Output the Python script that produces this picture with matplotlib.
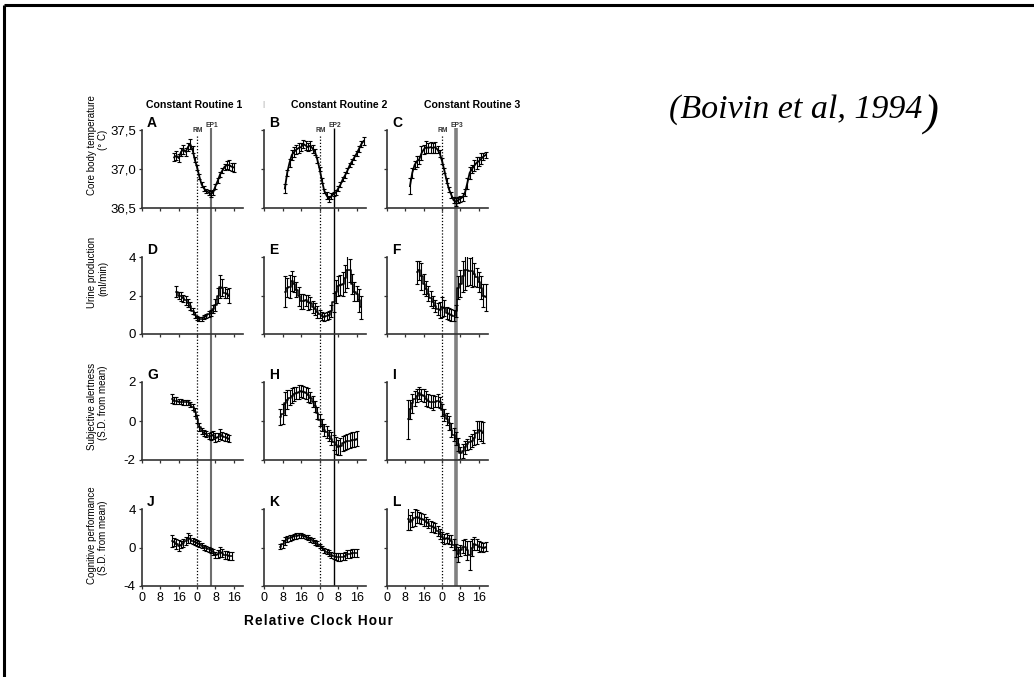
import numpy as np
import matplotlib.pyplot as plt

plt.rcParams['font.family'] = ['Liberation Sans', 'DejaVu Sans']

# ---- data (hourly means +- SEM) ----
temp1 = [37.15, 37.17, 37.14, 37.22, 37.25, 37.22, 37.28, 37.32, 37.25, 37.12,
         37.02, 36.90, 36.80, 36.75, 36.72, 36.70, 36.68, 36.70, 36.78, 36.85,
         36.93, 36.98, 37.03, 37.05, 37.05, 37.03, 37.02]
temp1_err = [0.05, 0.06, 0.05, 0.05, 0.06, 0.05, 0.05, 0.06, 0.04, 0.03,
             0.03, 0.03, 0.03, 0.03, 0.03, 0.03, 0.04, 0.03, 0.03, 0.03,
             0.03, 0.03, 0.04, 0.05, 0.06, 0.05, 0.06]
temp2 = [36.75, 36.95, 37.08, 37.18, 37.22, 37.25, 37.27, 37.28, 37.32, 37.30,
         37.28, 37.30, 37.26, 37.22, 37.12, 37.00, 36.85, 36.72, 36.66, 36.62,
         36.65, 36.68, 36.70, 36.75, 36.80, 36.87, 36.92, 36.98, 37.05, 37.10,
         37.15, 37.20, 37.26, 37.32, 37.36]
temp2_err = [0.06, 0.04, 0.05, 0.06, 0.06, 0.06, 0.06, 0.05, 0.05, 0.06,
             0.05, 0.06, 0.05, 0.04, 0.04, 0.03, 0.03, 0.03, 0.04, 0.04,
             0.04, 0.03, 0.03, 0.03, 0.03, 0.03, 0.04, 0.03, 0.03, 0.03,
             0.03, 0.03, 0.04, 0.04, 0.05]
temp3 = [36.78, 36.95, 37.05, 37.10, 37.12, 37.20, 37.25, 37.28, 37.27, 37.28,
         37.27, 37.28, 37.25, 37.20, 37.10, 36.98, 36.85, 36.74, 36.67, 36.60,
         36.58, 36.60, 36.62, 36.64, 36.70, 36.82, 36.95, 37.00, 37.04, 37.08,
         37.10, 37.13, 37.16, 37.18]
temp3_err = [0.10, 0.06, 0.05, 0.07, 0.05, 0.09, 0.06, 0.08, 0.06, 0.07,
             0.06, 0.07, 0.05, 0.04, 0.04, 0.03, 0.03, 0.03, 0.04, 0.04,
             0.05, 0.04, 0.04, 0.05, 0.04, 0.07, 0.08, 0.05, 0.07, 0.08,
             0.06, 0.07, 0.05, 0.04]

urine1 = [2.2, 2.0, 1.95, 1.85, 1.75, 1.6, 1.45, 1.2, 1.0, 0.85,
          0.8, 0.8, 0.9, 0.95, 1.05, 1.1, 1.3, 1.5, 2.0, 2.45,
          2.4, 2.15, 2.1, 2.0]
urine1_err = [0.3, 0.2, 0.25, 0.2, 0.25, 0.2, 0.2, 0.15, 0.15, 0.1,
              0.1, 0.1, 0.1, 0.1, 0.15, 0.15, 0.2, 0.3, 0.4, 0.6,
              0.45, 0.3, 0.25, 0.4]
urine2 = [2.2, 2.4, 2.45, 2.75, 2.6, 2.3, 1.95, 1.7, 1.7, 1.75,
          1.65, 1.6, 1.4, 1.3, 1.15, 1.05, 0.95, 0.9, 0.95, 1.0,
          1.2, 1.65, 2.2, 2.5, 2.55, 2.6, 2.9, 3.3, 3.3, 2.6,
          2.2, 2.1, 1.75, 1.4]
urine2_err = [0.8, 0.5, 0.6, 0.5, 0.4, 0.4, 0.5, 0.4, 0.4, 0.3,
              0.4, 0.3, 0.3, 0.3, 0.3, 0.2, 0.2, 0.2, 0.2, 0.2,
              0.3, 0.5, 0.6, 0.5, 0.5, 0.6, 0.7, 0.9, 0.6, 0.5,
              0.5, 0.4, 0.6, 0.6]
urine3 = [3.2, 3.3, 3.0, 2.6, 2.35, 2.1, 1.85, 1.65, 1.45, 1.3,
          1.25, 1.4, 1.35, 1.1, 1.05, 1.0, 0.95, 1.2, 2.4, 2.6,
          3.0, 3.3, 3.3, 3.25, 3.25, 3.1, 2.95, 2.7, 2.4, 2.0,
          1.9]
urine3_err = [0.6, 0.5, 0.7, 0.5, 0.4, 0.4, 0.4, 0.3, 0.3, 0.3,
              0.4, 0.5, 0.4, 0.3, 0.3, 0.3, 0.3, 0.3, 0.6, 0.7,
              0.8, 1.0, 0.8, 0.7, 0.8, 0.6, 0.5, 0.5, 0.6, 0.6,
              0.7]

alert1 = [1.15, 1.05, 1.05, 1.0, 1.0, 0.95, 0.95, 0.95, 0.85, 0.7,
          0.45, 0.1, -0.3, -0.5, -0.6, -0.65, -0.75, -0.75, -0.7, -0.85,
          -0.8, -0.65, -0.75, -0.8, -0.85, -0.9]
alert1_err = [0.25, 0.2, 0.2, 0.15, 0.15, 0.15, 0.15, 0.15, 0.15, 0.15,
              0.2, 0.2, 0.2, 0.15, 0.15, 0.15, 0.15, 0.2, 0.2, 0.25,
              0.2, 0.25, 0.2, 0.2, 0.2, 0.2]
alert2 = [0.2, 0.35, 0.9, 1.1, 1.2, 1.3, 1.4, 1.45, 1.5, 1.55,
          1.5, 1.45, 1.35, 1.2, 1.0, 0.75, 0.4, 0.05, -0.2, -0.45,
          -0.55, -0.75, -0.9, -1.1, -1.25, -1.35, -1.3, -1.15, -1.1, -1.05,
          -1.0, -0.95, -0.95, -0.9]
alert2_err = [0.4, 0.5, 0.6, 0.5, 0.4, 0.4, 0.35, 0.3, 0.35, 0.3,
              0.3, 0.3, 0.35, 0.3, 0.3, 0.3, 0.3, 0.3, 0.3, 0.3,
              0.3, 0.3, 0.35, 0.4, 0.45, 0.4, 0.45, 0.4, 0.4, 0.4,
              0.4, 0.4, 0.4, 0.4]
alert3 = [0.1, 0.6, 0.9, 1.15, 1.3, 1.45, 1.35, 1.3, 1.15, 1.05,
          1.0, 0.95, 1.0, 1.05, 0.95, 0.55, 0.3, 0.1, -0.1, -0.45,
          -0.7, -0.9, -1.2, -1.65, -1.55, -1.35, -1.2, -1.1, -1.0, -0.85,
          -0.6, -0.45, -0.5, -0.6]
alert3_err = [1.0, 0.5, 0.5, 0.4, 0.35, 0.3, 0.3, 0.35, 0.4, 0.35,
              0.35, 0.4, 0.3, 0.35, 0.3, 0.3, 0.3, 0.3, 0.35, 0.35,
              0.35, 0.35, 0.35, 0.3, 0.35, 0.35, 0.3, 0.35, 0.35, 0.4,
              0.6, 0.45, 0.5, 0.55]

cog1 = [0.7, 0.6, 0.35, 0.2, 0.3, 0.5, 0.7, 1.0, 0.85, 0.7,
        0.6, 0.5, 0.35, 0.2, 0.0, -0.1, -0.2, -0.3, -0.5, -0.8,
        -0.65, -0.45, -0.6, -0.75, -0.8, -0.85, -0.85]
cog1_err = [0.6, 0.4, 0.5, 0.6, 0.4, 0.4, 0.4, 0.5, 0.4, 0.3,
            0.3, 0.3, 0.3, 0.3, 0.3, 0.3, 0.3, 0.3, 0.3, 0.3,
            0.4, 0.5, 0.4, 0.4, 0.4, 0.4, 0.4]
cog2 = [0.1, 0.4, 0.7, 0.85, 0.95, 1.05, 1.15, 1.2, 1.25, 1.25,
        1.2, 1.1, 1.0, 0.85, 0.7, 0.55, 0.4, 0.15, -0.05, -0.3,
        -0.45, -0.6, -0.75, -0.85, -0.95, -1.0, -1.0, -0.95, -0.85, -0.7,
        -0.65, -0.6, -0.6, -0.6]
cog2_err = [0.3, 0.4, 0.4, 0.3, 0.3, 0.3, 0.3, 0.3, 0.25, 0.25,
            0.25, 0.25, 0.25, 0.25, 0.25, 0.25, 0.25, 0.25, 0.25, 0.25,
            0.25, 0.3, 0.3, 0.3, 0.4, 0.4, 0.4, 0.4, 0.4, 0.4,
            0.4, 0.4, 0.4, 0.4]
cog3 = [3.0, 2.6, 2.9, 3.1, 3.2, 3.1, 3.0, 2.85, 2.7, 2.5,
        2.2, 2.1, 2.0, 1.7, 1.4, 1.1, 0.9, 1.0, 0.85, 0.65,
        0.3, -0.3, -0.7, -0.3, 0.1, 0.05, -0.3, -0.8, 0.0, 0.4,
        0.3, 0.1, 0.1, 0.0, 0.1]
cog3_err = [1.2, 0.8, 0.8, 0.9, 0.7, 0.6, 0.6, 0.6, 0.5, 0.5,
            0.6, 0.5, 0.5, 0.5, 0.5, 0.5, 0.5, 0.5, 0.5, 0.6,
            0.6, 0.7, 0.8, 0.6, 0.7, 0.8, 1.0, 1.5, 0.9, 0.7,
            0.6, 0.6, 0.5, 0.5, 0.5]

# first hour of each series (relative clock hour)
start_hours = [[14, 9, 10], [15, 9, 13], [13, 7, 9], [13, 7, 9]]
series = [[temp1, temp2, temp3], [urine1, urine2, urine3],
          [alert1, alert2, alert3], [cog1, cog2, cog3]]
errors = [[temp1_err, temp2_err, temp3_err], [urine1_err, urine2_err, urine3_err],
          [alert1_err, alert2_err, alert3_err], [cog1_err, cog2_err, cog3_err]]

panel_letters = [['A', 'B', 'C'], ['D', 'E', 'F'], ['G', 'H', 'I'], ['J', 'K', 'L']]
routines = ['Constant Routine 1', 'Constant Routine 2', 'Constant Routine 3']
ep_labels = ['EP1', 'EP2', 'EP3']
rm_hour = 24
ep_hours = [30, 30, 30]
x_ticks = [0, 8, 16, 24, 32, 40]
x_ticklabels = ['0', '8', '16', '0', '8', '16']
y_ticks = [[36.5, 37.0, 37.5], [0, 2, 4], [-2, 0, 2], [-4, 0, 4]]
y_ticklabels = [['36,5', '37,0', '37,5'], ['0', '2', '4'], ['-2', '0', '2'], ['-4', '0', '4']]
y_lims = [(36.5, 37.5), (0, 4), (-2, 2), (-4, 4)]
row_labels = [('Core body temperature', '(° C)'),
              ('Urine production', '(ml/min)'),
              ('Subjective alertness', '(S.D. from mean)'),
              ('Cognitive performance', '(S.D. from mean)')]

# ---- layout in pixels ----
W, H = 1034, 677
fig = plt.figure(figsize=(W / 100, H / 100), dpi=100)
cols_px = [(142, 243), (264, 366), (387, 488)]
rows_px = [(130, 208), (257, 334), (382, 460), (509, 586)]
row_label_y = [(145, 140), (272, 278), (406, 403), (535, 538)]
ep_style = [dict(color='#6e6e6e', lw=1.5), dict(color='black', lw=1.0),
            dict(color='#808080', lw=2.6)]


def add_px_axes(l, t, r, b):
    return fig.add_axes([l / W, 1 - b / H, (r - l) / W, (b - t) / H])


# reference lines spanning all rows of a column
for c, (l, r) in enumerate(cols_px):
    ov = add_px_axes(l, 110, r, 586)
    ov.set_xlim(0, 44)
    ov.set_ylim(586, 110)
    ov.axis('off')
    ov.vlines(rm_hour, 136, 586, colors='black', linestyles=(0, (1, 1.5)), lw=0.9)
    ov.vlines(ep_hours[c], 128, 586, **ep_style[c])
    ov.text(rm_hour + 0.3, 134, 'RM', ha='center', va='bottom', fontsize=4.8,
            fontweight='bold', color='#333333')
    ov.text(ep_hours[c] + 0.6, 129, ep_labels[c], ha='center', va='bottom',
            fontsize=4.8, fontweight='bold', color='#333333')

for r_i, (t, b) in enumerate(rows_px):
    for c, (l, r) in enumerate(cols_px):
        ax = add_px_axes(l, t, r, b)
        ax.patch.set_alpha(0)
        vals = series[r_i][c]
        hrs = np.arange(start_hours[r_i][c], start_hours[r_i][c] + len(vals))
        if r_i == 0:
            ax.errorbar(hrs, vals, yerr=errors[r_i][c], color='black', lw=1.3,
                        elinewidth=0.8, capsize=1.3, capthick=0.8)
        else:
            ax.plot(hrs, vals, drawstyle='steps-mid', color='black', lw=1.1)
            ax.errorbar(hrs, vals, yerr=errors[r_i][c], fmt='none', ecolor='black',
                        elinewidth=0.8, capsize=1.3, capthick=0.8)
        ax.set_xlim(0, 44)
        ax.set_ylim(*y_lims[r_i])
        ax.set_xticks(x_ticks)
        ax.set_yticks(y_ticks[r_i])
        if r_i == 3:
            ax.set_xticklabels(x_ticklabels, fontsize=9)
        else:
            ax.set_xticklabels([])
        if c == 0:
            ax.set_yticklabels(y_ticklabels[r_i], fontsize=9.5)
        else:
            ax.set_yticklabels([])
        for s in ['top', 'right']:
            ax.spines[s].set_visible(False)
        for s in ['left', 'bottom']:
            ax.spines[s].set_color('#333333')
            ax.spines[s].set_linewidth(1.2)
        ax.tick_params(length=2.5, width=0.9, color='#333333', pad=2)
        ax.text(0.05, 1.0, panel_letters[r_i][c], transform=ax.transAxes,
                fontsize=10, fontweight='bold', va='bottom', ha='left')

    y1, y2 = row_label_y[r_i]
    fig.text(92 / W, 1 - y1 / H, row_labels[r_i][0], rotation=90, ha='center',
             va='center', fontsize=7)
    fig.text(103 / W, 1 - y2 / H, row_labels[r_i][1], rotation=90, ha='center',
             va='center', fontsize=7)

# column titles
for x_px, txt in zip([194, 339, 472], routines):
    fig.text(x_px / W, 1 - 105 / H, txt, ha='center', va='center', fontsize=7.6,
             fontweight='bold')
fig.text(263 / W, 1 - 105 / H, '|', ha='center', va='center', fontsize=6,
         color='#999999')

fig.text(318 / W, 1 - 621 / H, '\u200a'.join('Relative Clock Hour'), ha='center',
         va='center', fontsize=9.8, fontweight='bold',
         family=['Liberation Sans', 'DejaVu Sans'])

cite = fig.text(669 / W, 1 - 118 / H, '(Boivin et al, 1994', ha='left',
                va='baseline', fontsize=24.5, style='italic', family='Liberation Serif')
frame_ax = fig.add_axes([0, 0, 1, 1])
frame_ax.axis('off')
frame_ax.set_xlim(0, W)
frame_ax.set_ylim(H, 0)
frame_ax.annotate(')', xy=(1, 0), xycoords=cite, xytext=(0.5, 0), textcoords='offset points',
                  fontsize=32, style='italic', family='Liberation Serif',
                  ha='left', va='baseline')
frame_ax.plot([4, W], [5, 5], color='black', lw=2.2, solid_capstyle='butt')
frame_ax.plot([4, 4], [5, H], color='black', lw=2.2, solid_capstyle='butt')

fig.savefig('out.png', dpi=100)
